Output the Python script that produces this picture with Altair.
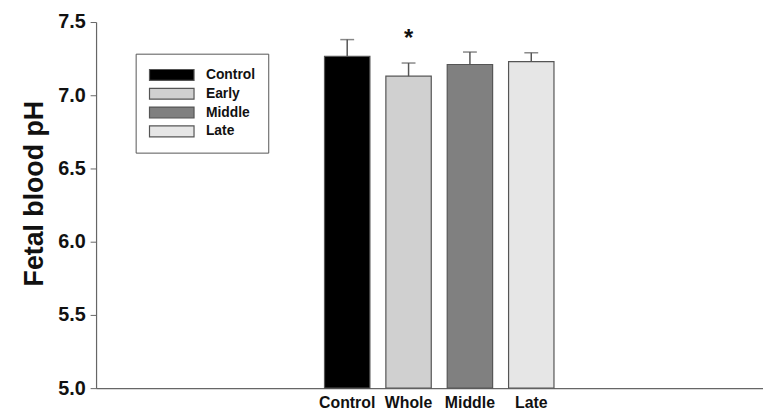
import altair as alt
import pandas as pd

labels = ["Control", "Whole", "Middle", "Late"]
groups = ["Control", "Early", "Middle", "Late"]
means = [7.265, 7.13, 7.21, 7.23]
errs = [0.115, 0.09, 0.085, 0.06]
sig = ["", "*", "", ""]
colors = ["#000000", "#d0d0d0", "#808080", "#e6e6e6"]
y_ticks = [5.0, 5.5, 6.0, 6.5, 7.0, 7.5]

# empty slots either side of the four bars (the axis runs much wider than the bars)
x_domain = ["_a", "_b", "_c"] + labels + ["_d", "_e", "_f"]

FONT = "Liberation Sans"

df = pd.DataFrame({"label": labels, "group": groups, "mean": means, "err": errs, "sig": sig})

base = alt.Chart(df).transform_calculate(top="datum.mean + datum.err")

xscale = alt.Scale(domain=x_domain, paddingInner=0.26, paddingOuter=0.565, align=0.64)

xenc = alt.X(
    "label:N",
    scale=xscale,
    axis=alt.Axis(
        title=None, labelAngle=0, ticks=False, labelPadding=7,
        labelExpr="indexof(['Control','Whole','Middle','Late'], datum.value) >= 0 ? datum.value : ''",
        labelFont=FONT, labelFontSize=16, labelFontWeight="bold", labelColor="#111",
        domainColor="#666", domainWidth=1.2,
    ),
)
yscale = alt.Scale(domain=[5.0, 7.5], zero=False, nice=False)

bars = base.mark_bar(stroke="#555", strokeWidth=1.2).encode(
    x=xenc,
    y=alt.Y(
        "mean:Q",
        scale=yscale,
        axis=alt.Axis(
            title="Fetal blood pH", values=y_ticks, format=".1f", grid=False,
            tickSize=6, tickColor="#666", domainColor="#666", domainWidth=1.2,
            labelFont=FONT, labelFontSize=20, labelFontWeight="bold", labelColor="#111",
            labelPadding=5,
            titleFont=FONT, titleFontSize=27, titleFontWeight="bold", titleColor="#111",
            titlePadding=9, titleY=173,
        ),
    ),
    y2=alt.datum(5.0),
    color=alt.Color(
        "group:N",
        sort=groups,
        scale=alt.Scale(domain=groups, range=colors),
        legend=alt.Legend(
            orient="none", legendX=40, legendY=32, title=None,
            symbolType="M-1,-0.733H5V0.733H-1Z", symbolSize=225,
            symbolStrokeColor="#555", symbolStrokeWidth=1.2, symbolOpacity=1,
            labelFont=FONT, labelFontSize=14, labelFontWeight="bold", labelColor="#111",
            labelOffset=41, padding=13, rowPadding=2,
            strokeColor="#555", fillColor="white",
        ),
    ),
)

rules = base.mark_rule(color="#555", strokeWidth=1.5).encode(
    x=alt.X("label:N", scale=xscale),
    y=alt.Y("mean:Q", scale=yscale),
    y2="top:Q",
)

caps = base.mark_tick(color="#555", thickness=1.5, size=14, orient="horizontal").encode(
    x=alt.X("label:N", scale=xscale),
    y=alt.Y("top:Q", scale=yscale),
)

stars = base.mark_text(font=FONT, fontSize=24, fontWeight="bold", color="#111",
                       baseline="alphabetic", dy=-17).encode(
    x=alt.X("label:N", scale=xscale),
    y=alt.Y("top:Q", scale=yscale),
    text="sig:N",
)

chart = alt.layer(bars, rules, caps, stars).properties(
    width=674,
    height=370,
    autosize=alt.AutoSizeParams(type="none"),
    padding={"left": 89, "top": 12, "right": 0, "bottom": 28},
).configure_view(stroke=None)

chart.save("out.html", embed_options={"renderer": "svg", "actions": False})
